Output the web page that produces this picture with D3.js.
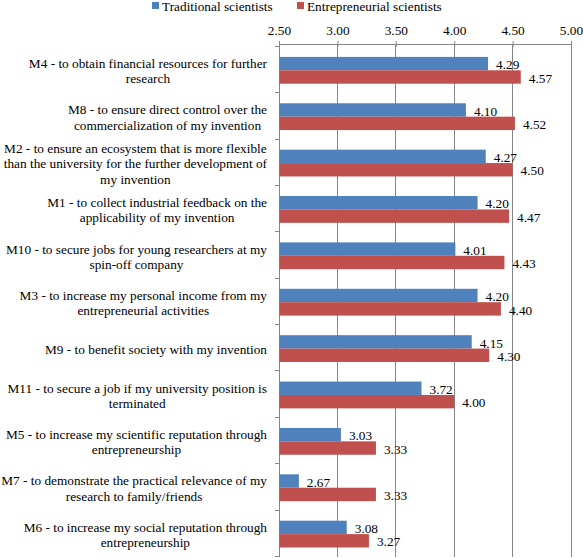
<!DOCTYPE html>
<html><head><meta charset="utf-8">
<script src="https://cdn.jsdelivr.net/npm/d3@7/dist/d3.min.js"></script>
<style>body{margin:0;background:#fff}svg{display:block}</style>
</head><body><svg id="c" width="583" height="558"></svg>
<script>
const categories = [
  "M4 - to obtain financial resources for further\nresearch",
  "M8 - to ensure direct control over the\ncommercialization of my invention",
  "M2 - to ensure an ecosystem that is more flexible\nthan the university for the further development of\nmy invention",
  "M1 - to collect industrial feedback on the\napplicability of my invention",
  "M10 - to secure jobs for young researchers at my\nspin-off company",
  "M3 - to increase my personal income from my\nentrepreneurial activities",
  "M9 - to benefit society with my invention",
  "M11 - to secure a job if my university position is\nterminated",
  "M5 - to increase my scientific reputation through\nentrepreneurship",
  "M7 - to demonstrate the practical relevance of my\nresearch to family/friends",
  "M6 - to increase my social reputation through\nentrepreneurship"
];
const traditional = [4.29, 4.10, 4.27, 4.20, 4.01, 4.20, 4.15, 3.72, 3.03, 2.67, 3.08];
const entrepreneurial = [4.57, 4.52, 4.50, 4.47, 4.43, 4.40, 4.30, 4.00, 3.33, 3.33, 3.27];
const seriesNames = ["Traditional scientists", "Entrepreneurial scientists"];
const tickValues = [2.5, 3.0, 3.5, 4.0, 4.5, 5.0];

const FONT = "Liberation Serif";
const FS = "13.3px";
const colors = ["#4F81BD", "#C0504D"];
const svg = d3.select("#c");
const x = d3.scaleLinear().domain([2.5, 5.0]).range([279, 571]);
const y = d3.scaleBand().domain(categories).range([46.3, 556.5]);
const inner = d3.scaleBand().domain([0, 1]).range([0, 26.8]);
const grid = "#868686";

// gridlines
svg.append("g").selectAll("line").data(tickValues.slice(1)).join("line")
  .attr("x1", d => x(d)).attr("x2", d => x(d)).attr("y1", 44).attr("y2", 556.5)
  .attr("stroke", grid).attr("stroke-width", 1).attr("shape-rendering", "crispEdges");

// top axis
const xa = svg.append("g").attr("transform", "translate(0,44)")
  .call(d3.axisTop(x).tickValues(tickValues).tickFormat(d3.format(".2f")).tickSizeInner(3).tickSizeOuter(0).tickPadding(6));
xa.select(".domain").attr("stroke", grid);
xa.selectAll(".tick line").attr("stroke", grid).attr("y1", 3).attr("y2", -3);
xa.selectAll("text").attr("fill", "#000").style("font-family", FONT).style("font-size", FS);

// left axis line & ticks
svg.append("line").attr("x1", 279).attr("x2", 279).attr("y1", 44).attr("y2", 556.5)
  .attr("stroke", grid).attr("shape-rendering", "crispEdges");
const bounds = categories.map(c => y(c)).concat([y.range()[1]]);
svg.append("g").selectAll("line").data(bounds).join("line")
  .attr("x1", 275).attr("x2", 279).attr("y1", d => d).attr("y2", d => d)
  .attr("stroke", grid).attr("shape-rendering", "crispEdges");

// bars
const data = categories.map((c, i) => ({c, vals: [traditional[i], entrepreneurial[i]]}));
const groups = svg.append("g").selectAll("g").data(data).join("g")
  .attr("transform", d => `translate(0,${y(d.c) + (y.bandwidth() - 26.8) / 2 + 0.8})`);
groups.selectAll("rect").data(d => d.vals.map((v, k) => ({v, k}))).join("rect")
  .attr("x", x(2.5) + 0.5).attr("y", d => inner(d.k))
  .attr("width", d => x(d.v) - x(2.5) - 0.5).attr("height", inner.bandwidth())
  .attr("fill", d => colors[d.k]);
groups.selectAll("text").data(d => d.vals.map((v, k) => ({v, k}))).join("text")
  .attr("x", d => x(d.v) + 8).attr("y", d => inner(d.k) + inner.bandwidth() / 2 + 1)
  .attr("dy", "0.35em").style("font-family", FONT).style("font-size", FS)
  .text(d => d.v.toFixed(2));

// category labels: each block centred, blocks right-aligned at x=267
const lh = 15.3;
const labelRight = 267;
svg.append("g").selectAll("text").data(categories).join("text")
  .attr("text-anchor", "middle")
  .style("font-family", FONT).style("font-size", FS)
  .each(function(d) {
    const lines = d.split("\n");
    const cy = y(d) + y.bandwidth() / 2 + 1.5;
    const t = d3.select(this);
    const spans = lines.map((ln, i) =>
      t.append("tspan").attr("y", cy + (i - (lines.length - 1) / 2) * lh).attr("dy", "0.35em").text(ln));
    const w = d3.max(spans, s => s.node().getComputedTextLength());
    spans.forEach(s => s.attr("x", labelRight - w / 2));
  });

// legend
const leg = svg.append("g");
const legX = [152, 297];
seriesNames.forEach((n, i) => {
  leg.append("rect").attr("x", legX[i]).attr("y", 2).attr("width", 7).attr("height", 7).attr("fill", colors[i]);
  leg.append("text").attr("x", legX[i] + 10).attr("y", 6).attr("dy", "0.35em")
    .style("font-family", FONT).style("font-size", FS).text(n);
});
</script></body></html>
